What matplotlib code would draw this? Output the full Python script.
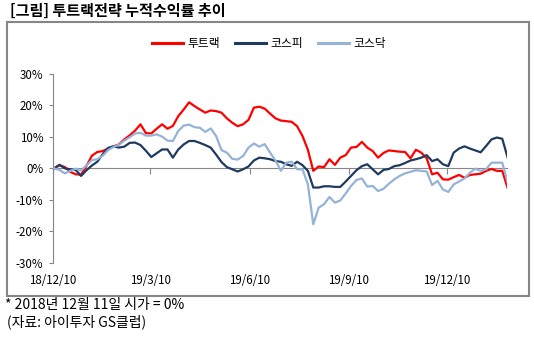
import numpy as np
import pandas as pd
import matplotlib
matplotlib.use("Agg")
import matplotlib.pyplot as plt
from matplotlib.lines import Line2D
from matplotlib.patches import Rectangle

plt.rcParams["font.family"] = ["Noto Sans CJK KR", "DejaVu Sans"]

# ── data: cumulative return (%), sampled every 5 calendar days from 2018-12-11 ──
DATES = pd.date_range("2018-12-11", periods=85, freq="5D")

TWO_TRACK = [
    0.0, 1.0, 0.4, -1.1, -1.9, -2.0, 0.8, 4.0, 5.2, 5.5,
    6.3, 7.0, 7.6, 9.2, 10.5, 12.0, 14.0, 11.2, 11.1, 12.6,
    14.0, 12.6, 13.5, 16.6, 18.7, 21.0, 19.8, 18.7, 17.7, 18.4,
    18.2, 17.7, 15.9, 14.5, 13.4, 14.0, 15.4, 19.3, 19.6, 19.0,
    17.4, 15.9, 15.2, 15.0, 14.8, 13.4, 10.3, 5.9, -0.8, 0.6,
    0.4, 2.9, 1.1, 3.4, 4.2, 6.6, 6.8, 8.4, 6.6, 5.5,
    3.4, 4.9, 5.7, 5.5, 5.3, 5.2, 3.2, 5.9, 5.0, 3.2,
    -1.9, -1.4, -3.5, -3.6, -2.8, -2.1, -3.0, -2.1, -1.9, -1.7,
    -0.8, -0.2, -0.8, -0.8, -6.3,
]
KOSPI = [
    0.0, 1.1, 0.0, -0.3, -0.5, -2.4, -0.6, 0.9, 2.1, 4.5,
    6.5, 7.0, 6.6, 6.9, 8.1, 8.2, 7.4, 5.6, 3.6, 4.8,
    6.0, 6.0, 3.4, 6.0, 7.6, 8.7, 8.7, 8.1, 7.4, 6.6,
    4.4, 2.0, 0.4, -0.3, -1.0, -0.3, 0.6, 2.5, 3.4, 3.2,
    2.9, 2.3, 2.1, 1.3, 0.8, 2.1, 1.0, -0.8, -6.1, -6.1,
    -5.7, -5.7, -5.9, -5.9, -4.2, -2.4, -0.6, 0.7, 1.3, -0.3,
    -1.9, -0.5, -0.2, 0.7, 1.0, 1.7, 2.5, 2.9, 3.4, 4.2,
    2.3, 2.9, 1.3, 0.7, 5.0, 6.3, 7.0, 6.3, 5.7, 5.1,
    7.1, 9.2, 9.8, 9.4, 3.4,
]
KOSDAQ = [
    0.0, -0.5, -1.6, -0.8, -0.1, -0.7, 1.0, 2.6, 2.9, 4.0,
    5.8, 6.8, 7.5, 8.8, 9.9, 11.1, 11.3, 10.4, 10.4, 10.8,
    10.1, 8.8, 8.7, 11.9, 13.6, 13.9, 13.1, 12.9, 11.6, 12.7,
    10.3, 5.8, 5.0, 3.0, 2.8, 3.9, 6.6, 7.9, 6.9, 7.7,
    5.0, 2.5, -0.8, 1.8, 2.1, -0.3, -0.3, -5.1, -17.8, -12.5,
    -11.4, -9.1, -10.9, -10.2, -8.0, -5.6, -3.7, -3.2, -5.8, -5.6,
    -7.2, -6.5, -4.9, -3.5, -2.4, -1.6, -1.1, -0.6, -0.8, -1.0,
    -5.3, -4.0, -6.7, -7.5, -5.1, -4.2, -3.2, -1.4, -0.1, -0.8,
    -0.3, 1.8, 1.8, 1.8, -4.5,
]

SERIES = ["투트랙", "코스피", "코스닥"]
COLORS = ["#FF0000", "#1F3A5F", "#95B3D7"]

TICK_DATES = pd.to_datetime(["2018-12-10", "2019-03-10", "2019-06-10",
                             "2019-09-10", "2019-12-10"])
TICK_LABELS = ["18/12/10", "19/3/10", "19/6/10", "19/9/10", "19/12/10"]
Y_TICKS = [-30, -20, -10, 0, 10, 20, 30]

W, H = 534, 337
GRAY = "#868686"

fig = plt.figure(figsize=(W / 100, H / 100), dpi=100)

# outer frame
fig.patches.append(Rectangle((7 / W, 1 - 296 / H), 522 / W, 274 / H,
                             transform=fig.transFigure, fill=False,
                             edgecolor=GRAY, linewidth=1.5))

ax = fig.add_axes([53 / W, 1 - 262.7 / H, 453.6 / W, 188.7 / H])

for vals, color in zip([TWO_TRACK, KOSPI, KOSDAQ], COLORS):
    ax.plot(DATES, vals, color=color, linewidth=1.6, zorder=3)

ax.set_xlim(pd.Timestamp("2018-12-10"), pd.Timestamp("2020-02-03"))
ax.set_ylim(-30, 30)
ax.set_yticks(Y_TICKS)
ax.set_yticklabels([f"{v}%" for v in Y_TICKS])

# category axis sits on the zero line, labels stay at the bottom
ax.spines["bottom"].set_position(("data", 0))
ax.spines["bottom"].set_color(GRAY)
ax.spines["left"].set_color(GRAY)
ax.spines["top"].set_visible(False)
ax.spines["right"].set_visible(False)
ax.set_xticks(TICK_DATES)
ax.set_xticklabels(TICK_LABELS)
ax.tick_params(axis="x", direction="out", length=4, color=GRAY,
               pad=72, labelsize=8.3)
ax.tick_params(axis="y", direction="out", length=3, color=GRAY,
               pad=4, labelsize=8.3)
ax.patch.set_visible(False)

handles = [Line2D([], [], color=c, linewidth=2.2) for c in COLORS]
fig.legend(handles, SERIES, loc="center", bbox_to_anchor=(269 / W, 1 - 44 / H),
           ncol=3, frameon=False, fontsize=8.5, handlelength=2.6,
           handletextpad=0.35, columnspacing=1.3)

fig.text(10 / W, 1 - 11 / H, "[그림] 투트랙전략 누적수익률 추이",
         fontsize=10.9, fontweight="bold", ha="left", va="center")
fig.text(5 / W, 1 - 305 / H, "* 2018년 12월 11일 시가 = 0%",
         fontsize=10, ha="left", va="center")
fig.text(7 / W, 1 - 322 / H, "(자료: 아이투자 GS클럽)",
         fontsize=10, ha="left", va="center")

fig.savefig("out.png", dpi=100)
